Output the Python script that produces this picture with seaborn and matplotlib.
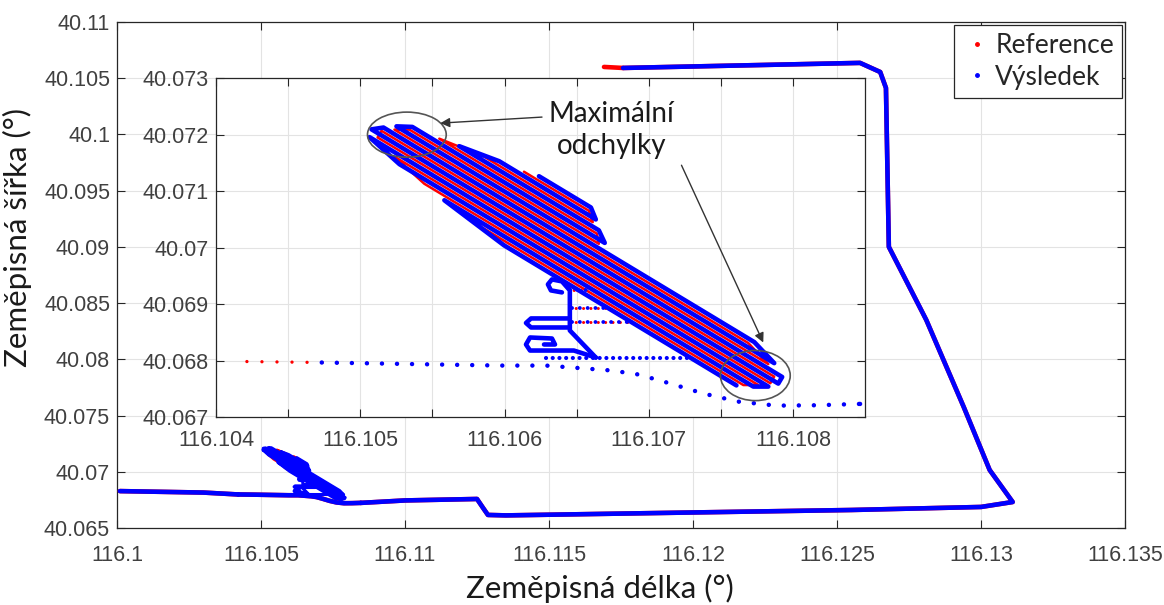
import matplotlib
matplotlib.use("Agg")
import matplotlib.pyplot as plt
import pandas as pd
import seaborn as sns
from matplotlib.lines import Line2D
from matplotlib.patches import Ellipse

# ---------------- data (degrees) ----------------
# western approach (visible at the main scale only)
WEST_LON = [116.1001, 116.1030, 116.10421]
WEST_LAT = [40.06828, 40.06815, 40.06798]

# road below the manoeuvring area (reference from index 0, result from index 1 in the zoom)
ROAD_LON = [116.104214, 116.104733, 116.105963, 116.106288, 116.106744, 116.10693,
            116.107151, 116.10738, 116.107621, 116.107884, 116.10816, 116.108465]
ROAD_LAT = [40.067982, 40.067965, 40.067911, 40.067911, 40.067823, 40.067752,
            40.067592, 40.067415, 40.067273, 40.067202, 40.067208, 40.067232]

# eastern part of the ride up to its northern end
EAST_LON = [116.108465, 116.1100, 116.1125, 116.11272, 116.11288, 116.1135, 116.1255,
            116.1300, 116.1311, 116.1303, 116.1294, 116.1281, 116.1268, 116.1267,
            116.1265, 116.1258, 116.11757]
EAST_LAT = [40.067232, 40.06745, 40.06758, 40.06675, 40.06616, 40.06612, 40.0666,
            40.06687, 40.06731, 40.07016, 40.07576, 40.0835, 40.0900, 40.10413,
            40.10555, 40.10636, 40.10591]
REF_TAIL_LON = [116.11757, 116.11691]
REF_TAIL_LAT = [40.10591, 40.10600]

# back-and-forth passes (turning points) - result
RES_LANES_LON = [116.106239, 116.106599, 116.106633, 116.105963, 116.105686, 116.106654,
                 116.106695, 116.105361, 116.105251, 116.107732, 116.10787, 116.105161,
                 116.105078, 116.107925, 116.107898, 116.105064, 116.105272, 116.107829,
                 116.107725, 116.105583, 116.105997, 116.107608]
RES_LANES_LAT = [40.071262, 40.070709, 40.070497, 40.071528, 40.071794, 40.070305,
                 40.070082, 40.072135, 40.072145, 40.068326, 40.067954, 40.072124,
                 40.072092, 40.067709, 40.067592, 40.071954, 40.071475, 40.067539,
                 40.067539, 40.070837, 40.070039, 40.06756]
# back-and-forth passes (turning points) - reference
REF_LANES_LON = [116.106135, 116.106585, 116.106612, 116.105859, 116.105548, 116.10664,
                 116.106654, 116.105341, 116.105237, 116.10769, 116.107829, 116.105147,
                 116.10512, 116.10787, 116.107843, 116.105237, 116.105444, 116.10776,
                 116.107656, 116.105825]
REF_LANES_LAT = [40.071342, 40.070651, 40.070449, 40.071608, 40.071927, 40.070247,
                 40.070066, 40.072087, 40.072087, 40.06831, 40.067938, 40.072066,
                 40.071949, 40.067715, 40.067598, 40.071608, 40.071129, 40.067566,
                 40.067566, 40.070385]

# side manoeuvres (result)
ENTRY_LON = [116.106288, 116.107276]
ENTRY_LAT = [40.068053, 40.068053]
HOOK_LON = [116.106398, 116.106322, 116.106301, 116.106329, 116.106398, 116.106453,
            116.106453, 116.106633]
HOOK_LAT = [40.069206, 40.069241, 40.069348, 40.069436, 40.069401, 40.069241,
            40.068532, 40.068053]
LOOP_A_LON = [116.106453, 116.106184, 116.106149, 116.106184, 116.106453]
LOOP_A_LAT = [40.068745, 40.068745, 40.068665, 40.068585, 40.068585]
LOOP_B_LON = [116.106274, 116.10635, 116.106329, 116.106177, 116.106149, 116.106177,
              116.106481, 116.106633]
LOOP_B_LAT = [40.068284, 40.068284, 40.06839, 40.068408, 40.068284, 40.068177,
              40.068177, 40.068053]
# short straight runs towards the passes (both series)
SIDE_LON_START = [116.106453, 116.106467, 116.106467]
SIDE_LON_END = [116.106564, 116.106723, 116.106882]
SIDE_LAT = [40.069241, 40.068922, 40.068674]

# ticks
MAIN_XTICKS = [116.100, 116.105, 116.110, 116.115, 116.120, 116.125, 116.130, 116.135]
MAIN_XLABELS = ["116.1", "116.105", "116.11", "116.115", "116.12", "116.125", "116.13", "116.135"]
MAIN_YTICKS = [40.065, 40.070, 40.075, 40.080, 40.085, 40.090, 40.095, 40.100, 40.105, 40.110]
MAIN_YLABELS = ["40.065", "40.07", "40.075", "40.08", "40.085", "40.09", "40.095", "40.1", "40.105", "40.11"]
INS_XTICKS = [116.1040, 116.1045, 116.1050, 116.1055, 116.1060, 116.1065, 116.1070, 116.1075, 116.1080]
INS_XLABELS = ["116.104", "", "116.105", "", "116.106", "", "116.107", "", "116.108"]
INS_YTICKS = [40.067, 40.068, 40.069, 40.070, 40.071, 40.072, 40.073]
INS_YLABELS = ["40.067", "40.068", "40.069", "40.07", "40.071", "40.072", "40.073"]

# ellipses marking the maximal deviations (centre lon, centre lat, width, height)
ELL_LON = [116.105323, 116.107739]
ELL_LAT = [40.071998, 40.067734]
ELL_W = [0.000546, 0.000484]
ELL_H = [0.000798, 0.000887]

RED = "#ff0000"
BLUE = "#0000ff"

sns.set_theme(style="whitegrid")
plt.rcParams["font.family"] = ["Liberation Sans", "DejaVu Sans"]
LBL_FONT = ["Lato", "DejaVu Sans"]


def frame(parts):
    out = []
    for k, (lon, lat) in enumerate(parts):
        out.append(pd.DataFrame({"lon": list(lon), "lat": list(lat), "seg": k}))
    return pd.concat(out, ignore_index=True)


def draw(ax, df, color, lw, gap=None, offset=0.0, z=3):
    kw = dict(data=df, x="lon", y="lat", units="seg", estimator=None, sort=False,
              color=color, lw=lw, ax=ax, legend=False, zorder=z)
    if gap is None:
        kw.update(solid_capstyle="round", solid_joinstyle="round")
    else:
        kw.update(linestyle=(offset, (0.01, gap)), dash_capstyle="round")
    sns.lineplot(**kw)


side_parts = [([a, b], [y, y]) for a, b, y in zip(SIDE_LON_START, SIDE_LON_END, SIDE_LAT)]

ref_route = frame([(WEST_LON, WEST_LAT), (ROAD_LON, ROAD_LAT), (EAST_LON, EAST_LAT),
                   (REF_TAIL_LON, REF_TAIL_LAT)])
res_route = frame([(WEST_LON, WEST_LAT), (ROAD_LON, ROAD_LAT), (EAST_LON, EAST_LAT)])
ref_lanes = frame([(REF_LANES_LON, REF_LANES_LAT)] + side_parts)
res_lanes = frame([(RES_LANES_LON, RES_LANES_LAT), (HOOK_LON, HOOK_LAT),
                   (LOOP_A_LON, LOOP_A_LAT), (LOOP_B_LON, LOOP_B_LAT),
                   (ENTRY_LON, ENTRY_LAT)] + side_parts)

ins_ref_road = frame([(ROAD_LON, ROAD_LAT), (EAST_LON, EAST_LAT)])
ins_res_road = frame([(ROAD_LON[1:], ROAD_LAT[1:]), (EAST_LON, EAST_LAT)])
ins_ref_lanes = frame([(REF_LANES_LON, REF_LANES_LAT)])
ins_res_lanes = frame([(RES_LANES_LON, RES_LANES_LAT), (HOOK_LON, HOOK_LAT),
                       (LOOP_A_LON, LOOP_A_LAT), (LOOP_B_LON, LOOP_B_LAT)])
ins_side = frame(side_parts)
ins_entry = frame([(ENTRY_LON, ENTRY_LAT)])

fig = plt.figure(figsize=(11.64, 6.05), dpi=100)
ax = fig.add_axes([0.1005, 0.1273, 0.866, 0.8364])
axi = fig.add_axes([0.1856, 0.3107, 0.5576, 0.5603])

EDGE = "#262626"
TICKC = "#404040"
for a in (ax, axi):
    a.set_facecolor("white")
    for s in a.spines.values():
        s.set_color(EDGE)
        s.set_linewidth(0.9)
        s.set_visible(True)
    a.grid(True, color="#e3e3e3", lw=0.8)
    a.tick_params(direction="in", length=6, width=0.8, color=EDGE, top=True, right=True,
                  bottom=True, left=True, labelsize=15.5, labelcolor=TICKC, pad=5)
ax.tick_params(axis="x", pad=12)
axi.tick_params(axis="x", pad=9)

# ---- main axes ----
draw(ax, ref_route, RED, 3.3, z=3)
draw(ax, ref_lanes, RED, 2.2, z=3)
draw(ax, res_route, BLUE, 3.3, z=4)
draw(ax, res_lanes, BLUE, 2.2, z=4)
ax.set_xlim(116.1, 116.135)
ax.set_ylim(40.065, 40.11)
ax.set_xticks(MAIN_XTICKS)
ax.set_xticklabels(MAIN_XLABELS)
ax.set_yticks(MAIN_YTICKS)
ax.set_yticklabels(MAIN_YLABELS)
ax.set_xlabel("Zeměpisná délka (°)", fontsize=22.5, family=LBL_FONT, color="#1a1a1a")
ax.set_ylabel("Zeměpisná šířka (°)", fontsize=22.5, family=LBL_FONT, color="#1a1a1a")
ax.xaxis.set_label_coords(0.479, -0.09)
ax.yaxis.set_label_coords(-0.084, 0.575)

handles = [Line2D([], [], ls="", marker=".", color=RED, markersize=5),
           Line2D([], [], ls="", marker=".", color=BLUE, markersize=5)]
leg = ax.legend(handles, ["Reference", "Výsledek"], loc="upper right", frameon=True,
                fancybox=False, framealpha=1, edgecolor=EDGE, borderaxespad=0.12,
                handlelength=1.1, handletextpad=0.15, borderpad=0.3, labelspacing=0.25,
                prop={"family": LBL_FONT, "size": 19})
leg.get_frame().set_linewidth(0.9)

# ---- inset ----
draw(axi, ins_ref_road, RED, 2.4, gap=4.5, z=3)
draw(axi, ins_res_road, BLUE, 3.2, gap=3.375, z=4)
draw(axi, ins_side, RED, 2.2, gap=2.4, offset=1.2, z=3)
draw(axi, ins_side, BLUE, 2.8, gap=2.0, z=4)
draw(axi, ins_entry, BLUE, 3.0, gap=1.6, z=4)
draw(axi, ins_ref_lanes, RED, 1.8, z=3)
draw(axi, ins_res_lanes, BLUE, 3.3, z=4)
axi.set_xlim(116.104, 116.1085)
axi.set_ylim(40.067, 40.073)
axi.set_xticks(INS_XTICKS)
axi.set_xticklabels(INS_XLABELS)
axi.set_yticks(INS_YTICKS)
axi.set_yticklabels(INS_YLABELS)
axi.set_xlabel("")
axi.set_ylabel("")

for cx, cy, w, h in zip(ELL_LON, ELL_LAT, ELL_W, ELL_H):
    axi.add_patch(Ellipse((cx, cy), w, h, fill=False, ec="#555555", lw=1.2, zorder=6))

axi.text(116.106744, 40.072078, "Maximální\nodchylky", ha="center", va="center",
         fontsize=20, family=LBL_FONT, color="#1a1a1a", linespacing=1.3, zorder=7)
arrow = dict(arrowstyle="-|>", color="#333333", lw=1.0, mutation_scale=14, shrinkA=0, shrinkB=0)
axi.annotate("", xy=(116.105555, 40.072202), xytext=(116.10626, 40.072309), arrowprops=arrow, zorder=7)
axi.annotate("", xy=(116.107794, 40.068319), xytext=(116.107227, 40.071457), arrowprops=arrow, zorder=7)

fig.savefig("out.png", dpi=100, facecolor="white")
